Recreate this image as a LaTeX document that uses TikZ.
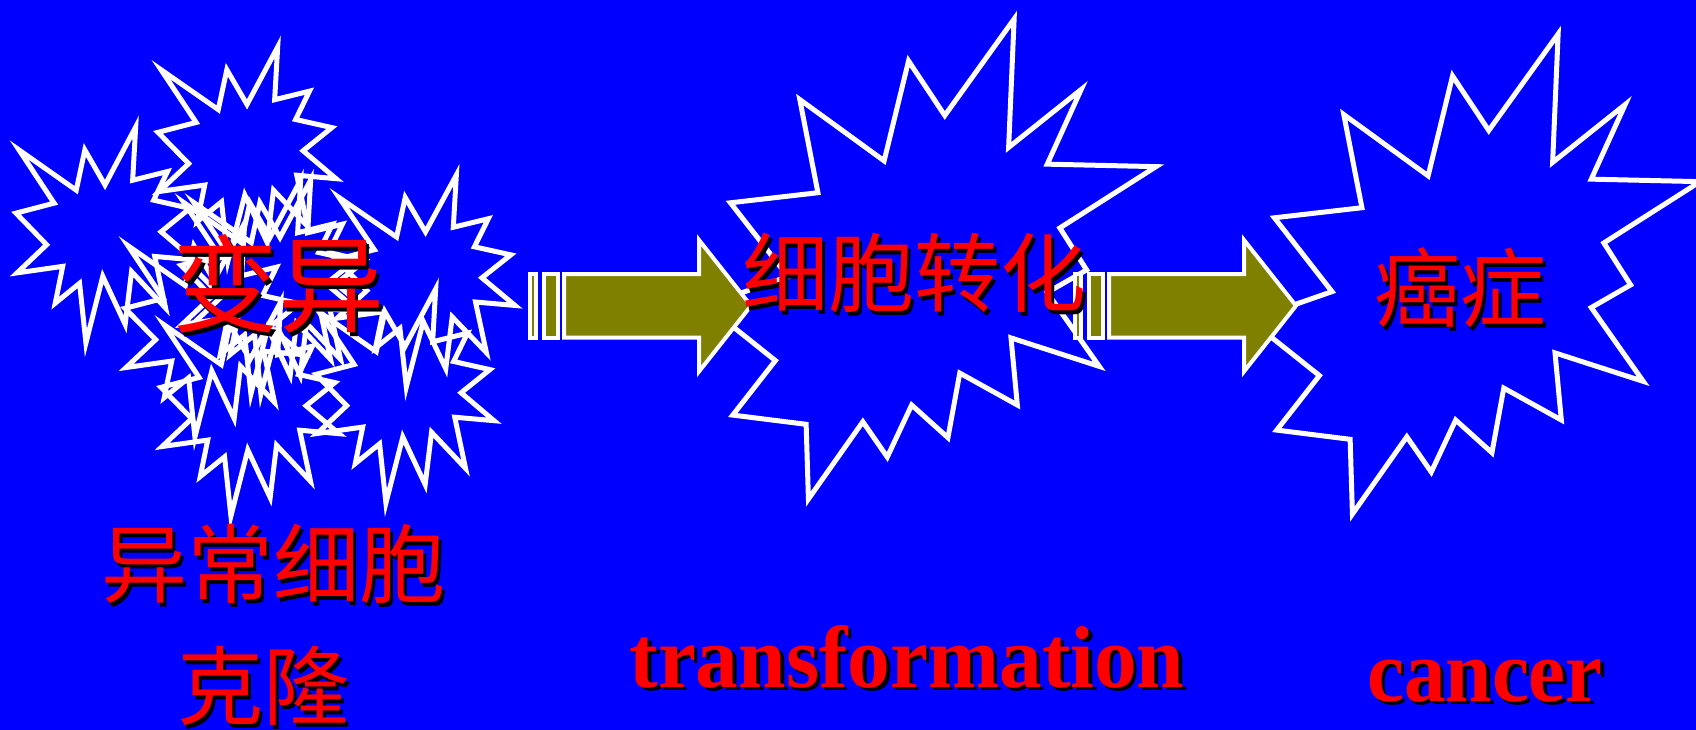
\documentclass[tikz,border=0pt]{standalone}
\usepackage{fontspec}
\setmainfont{Liberation Serif}
\newfontfamily\cjk{Noto Sans CJK SC}
\definecolor{slideblue}{RGB}{0,0,255}
\definecolor{arrowolive}{RGB}{128,128,0}
\definecolor{labelred}{RGB}{255,0,0}

\tikzset{
  burst/.style={draw=white, line width=5pt, line join=miter},
  barrow/.style={draw=white, fill=arrowolive, line width=4pt, line join=miter},
  cjklabel/.style={inner sep=0pt, font=\cjk\fontsize{86}{86}\selectfont},
  biglabel/.style={inner sep=0pt, font=\cjk\fontsize{106}{106}\selectfont},
  enlabel/.style={inner sep=0pt, anchor=base, font=\bfseries\fontsize{88}{88}\selectfont},
}

% small 24-point explosion, placed by its box: left, top, width, height
\newcommand\explosionone[4]{%
  \begin{scope}[shift={(#1,#2)},xscale=#3,yscale=#4]
    \draw[burst] (0.5,0.2685) -- (0.6723,0) -- (0.6553,0.2465) -- (0.8509,0.2063)
      -- (0.7732,0.3387) -- (0.9767,0.3767) -- (0.8151,0.4850) -- (1,0.6153)
      -- (0.7795,0.5992) -- (0.8400,0.8377) -- (0.6491,0.6693) -- (0.6133,0.9137)
      -- (0.4876,0.6914) -- (0.3928,1) -- (0.3572,0.7235) -- (0.2205,0.8156)
      -- (0.2624,0.6452) -- (0.0063,0.6753) -- (0.1723,0.5451) -- (0,0.3988)
      -- (0.2142,0.3526) -- (0.0171,0.1063) -- (0.3385,0.2926) -- (0.3867,0.1063)
      -- cycle;
  \end{scope}}

% large 28-point explosion, placed by its box: left, top, width, height
\newcommand\explosiontwo[4]{%
  \begin{scope}[shift={(#1,#2)},xscale=#3,yscale=#4]
    \draw[burst] (0.5306,0.2010) -- (0.6847,0) -- (0.6725,0.2675) -- (0.8337,0.1469)
      -- (0.7583,0.3024) -- (1,0.3076) -- (0.7863,0.4353) -- (0.8458,0.5227)
      -- (0.7583,0.5699) -- (0.8739,0.7237) -- (0.6778,0.6644) -- (0.6918,0.8042)
      -- (0.5639,0.7377) -- (0.5376,0.8723) -- (0.4570,0.8042) -- (0.4028,0.9126)
      -- (0.3485,0.8391) -- (0.2276,1) -- (0.2225,0.8444) -- (0.0595,0.8252)
      -- (0.1542,0.7116) -- (0,0.5962) -- (0.1822,0.5367) -- (0.0543,0.3829)
      -- (0.2487,0.3619) -- (0.2084,0.1678) -- (0.3958,0.2955) -- (0.4501,0.0874)
      -- cycle;
  \end{scope}}

% striped block arrow, shifted right by #1
\newcommand\stripedarrow[1]{%
  \begin{scope}[shift={(#1,0)}]
    \draw[barrow] (530.3,274) rectangle (535.7,337.5);
    \draw[barrow] (544.2,274) rectangle (558.3,337.5);
    \draw[barrow] (564,274) -- (699,274) -- (699,240) -- (751,305.75)
      -- (699,371.5) -- (699,337.5) -- (564,337.5) -- cycle;
  \end{scope}}

% red label with a black drop shadow: name, style, position, text
\newcommand\shadowlabel[4]{%
  \node[#2, text=black] at ([shift={(3.5,3.5)}]#3) {#4};
  \node[#2, text=labelred] (#1) at (#3) {#4};}

\begin{document}
\begin{tikzpicture}[x=1pt,y=-1pt]
  \fill[slideblue] (0,0) rectangle (1696,730);
  \useasboundingbox (0,0) rectangle (1696,730);
  \clip (0,0) rectangle (1696,730);

  % cluster of mutated cells
  \explosionone{16}{127}{178}{216}
  \explosionone{158}{47}{178}{214}
  \explosionone{336}{175}{179}{212}
  \explosionone{125}{223}{178}{214}
  \explosionone{181}{180}{178}{214}
  \explosionone{191}{180}{178}{214}
  \explosionone{161}{302}{178}{214}
  \explosionone{316}{289}{178}{214}

  % transformed cell and cancer
  \explosiontwo{706}{19}{450}{480}
  \explosiontwo{1250}{34}{450}{480}

  % arrows between the stages
  \stripedarrow{0}
  \stripedarrow{545}

  % labels
  \shadowlabel{mutation}{biglabel}{278,284}{变异}
  \shadowlabel{transzh}{cjklabel}{914,273}{细胞转化}
  \shadowlabel{cancerzh}{cjklabel}{1460,288}{癌症}
  \shadowlabel{abnormal}{cjklabel}{273,564}{异常细胞}
  \shadowlabel{clone}{cjklabel}{263,686}{克隆}
  \shadowlabel{transen}{enlabel}{907,687}{\scalebox{0.97}[1]{transformation}}
  \shadowlabel{canceren}{enlabel}{1485,701}{\scalebox{0.945}[1]{cancer}}
\end{tikzpicture}
\end{document}
